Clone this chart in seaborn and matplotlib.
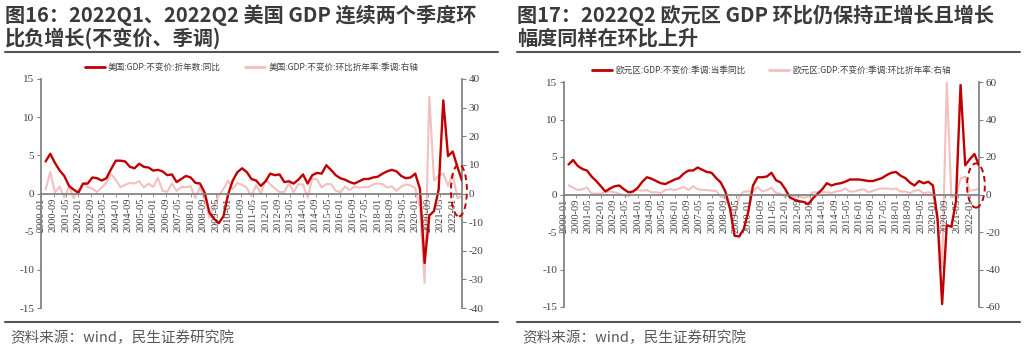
import numpy as np
import pandas as pd
import matplotlib
matplotlib.use("Agg")
import matplotlib.pyplot as plt
import matplotlib.dates as mdates
from matplotlib.patches import Ellipse
from matplotlib.lines import Line2D
from matplotlib.ticker import FixedLocator, FixedFormatter
import seaborn as sns

# ---------------- data ----------------
quarters = pd.date_range("2000-03-31", periods=90, freq="QE")
tick_dates = pd.date_range("2000-01-01", "2022-01-01", freq="8MS")
tick_labels = [d.strftime("%Y-%m") for d in tick_dates]

us_yoy = [4.2, 5.2, 4.0, 3.0, 2.3, 1.0, 0.5, 0.1, 1.3, 1.3, 2.1, 2.0,
          1.7, 2.0, 3.2, 4.3, 4.3, 4.2, 3.5, 3.3, 3.9, 3.5, 3.4, 3.0,
          3.1, 2.9, 2.4, 2.5, 1.5, 1.9, 2.3, 2.1, 1.4, 1.3, 0.1, -2.5,
          -3.3, -3.9, -3.0, -0.1, 1.7, 2.8, 3.3, 2.8, 1.9, 1.7, 1.0, 1.6,
          2.6, 2.4, 2.5, 1.5, 1.6, 1.3, 1.8, 2.5, 1.3, 2.4, 2.7, 2.6,
          3.7, 3.1, 2.4, 2.0, 1.8, 1.5, 1.3, 1.6, 1.9, 1.9, 2.1, 2.2,
          2.6, 2.9, 3.1, 2.9, 2.3, 2.0, 2.1, 2.6, 0.6, -9.1, -2.9, -2.3,
          0.5, 12.2, 4.9, 5.5, 3.5, 1.7]
us_qoq = [1.5, 7.5, 0.4, 2.4, -1.3, 2.5, -1.6, 1.1, 3.4, 2.3, 1.7, 0.5,
          2.1, 3.8, 6.8, 4.7, 2.2, 3.0, 3.7, 3.5, 4.3, 2.1, 3.4, 2.3,
          5.5, 0.9, 0.6, 3.5, 0.9, 2.3, 2.2, 2.5, -1.6, 2.3, -2.1, -8.5,
          -4.6, -0.7, 1.5, 4.5, 1.5, 3.7, 3.0, 2.0, -1.0, 2.9, -0.1, 4.7,
          3.2, 1.7, 0.5, 0.5, 3.6, 0.5, 3.2, 3.2, -1.4, 5.2, 5.0, 2.1,
          3.3, 3.3, 1.0, 0.4, 2.4, 1.2, 2.4, 2.0, 2.3, 2.2, 3.2, 3.5,
          3.3, 2.1, 2.5, 0.9, 2.4, 3.2, 2.8, 1.9, -5.1, -31.2, 33.8, 4.5,
          6.3, 7.0, 2.7, 7.0, -1.6, -0.9]

ez_yoy = [4.0, 4.6, 3.8, 3.4, 3.2, 2.4, 1.8, 1.1, 0.4, 0.8, 1.1, 1.2,
          0.7, 0.3, 0.4, 0.9, 1.7, 2.3, 2.1, 1.8, 1.5, 1.4, 1.7, 2.0,
          2.2, 2.8, 3.2, 3.2, 3.6, 3.3, 3.0, 2.9, 2.2, 1.6, 0.4, -1.9,
          -5.5, -5.6, -4.6, -2.2, 1.2, 2.3, 2.3, 2.4, 2.9, 1.9, 1.6, 0.7,
          -0.4, -0.7, -0.9, -1.0, -1.3, -0.5, 0.1, 0.7, 1.5, 1.2, 1.4, 1.5,
          1.7, 2.0, 2.0, 2.0, 1.9, 1.8, 1.8, 2.0, 2.2, 2.6, 2.9, 3.0,
          2.5, 2.2, 1.6, 1.2, 1.8, 1.5, 1.7, 1.2, -3.2, -14.6, -4.1, -4.3,
          -0.9, 14.6, 3.9, 4.7, 5.4, 3.9]
ez_qoq = [5.0, 3.6, 2.4, 2.8, 3.8, 0.4, 0.6, 0.4, 1.6, 1.6, 1.2, 0.4,
          -0.4, -1.0, 2.0, 2.4, 2.0, 2.4, 1.2, 1.2, 0.8, 2.4, 2.8, 2.4,
          3.2, 4.0, 2.4, 4.4, 2.8, 2.4, 2.4, 2.0, 2.0, -1.2, -2.0, -7.0,
          -11.6, -1.2, 1.6, 1.6, 1.6, 4.0, 1.6, 2.4, 3.6, 0.8, 0.4, -1.2,
          -0.4, -1.2, -0.8, -1.8, -1.2, 1.2, 1.2, 1.2, 1.2, 0.8, 1.6, 2.0,
          3.2, 1.6, 1.6, 2.4, 2.8, 1.2, 2.0, 2.8, 3.2, 3.2, 2.8, 3.2,
          1.6, 1.6, 0.8, 2.0, 2.4, 0.6, 1.2, 0.4, -14.0, -39.0, 60.0, -1.6,
          -0.9, 8.6, 9.5, 2.0, 2.4, 3.0]

titles_left = ["图16：2022Q1、2022Q2 美国 GDP 连续两个季度环", "比负增长(不变价、季调)"]
titles_right = ["图17：2022Q2 欧元区 GDP 环比仍保持正增长且增长", "幅度同样在环比上升"]
legend_left = ["美国:GDP:不变价:折年数:同比", "美国:GDP:不变价:环比折年率:季调:右轴"]
legend_right = ["欧元区:GDP:不变价:季调:当季同比", "欧元区:GDP:不变价:季调:环比折年率:右轴"]
source_text = "资料来源：wind，民生证券研究院"

left_ticks = [15, 10, 5, 0, -5, -10, -15]
right_ticks_us = [40, 30, 20, 10, 0, -10, -20, -30, -40]
right_ticks_ez = [60, 40, 20, 0, -20, -40, -60]

# ---------------- style ----------------
sns.set_theme(style="white")
plt.rcParams["font.family"] = ["Noto Sans CJK SC", "DejaVu Sans"]
plt.rcParams["axes.unicode_minus"] = False

RED = "#c00000"
PINK = "#f2c0c0"
GRAY = "#808080"
TXT = "#404040"
SERIF = "Liberation Serif"

W, H = 1024, 348
fig = plt.figure(figsize=(W / 100, H / 100), dpi=100)
fig.patch.set_facecolor("white")


def px(x0, y_top, w, h):
    return [x0 / W, 1 - (y_top + h) / H, w / W, h / H]


def panel(rect, yoy, qoq, rticks, leg_labels, ell_center, ell_w_days, ell_h):
    ax = fig.add_axes(rect)
    axr = ax.twinx()
    df = pd.DataFrame({"date": quarters, "yoy": yoy, "qoq": qoq})
    sns.lineplot(data=df, x="date", y="qoq", ax=axr, color=PINK, lw=1.5, legend=False)
    sns.lineplot(data=df, x="date", y="yoy", ax=ax, color=RED, lw=1.7, legend=False)
    ax.set_zorder(axr.get_zorder() + 1)
    ax.patch.set_visible(False)
    axr.patch.set_visible(False)

    ax.set_xlim(pd.Timestamp("2000-01-01"), pd.Timestamp("2022-06-30"))
    ax.set_ylim(-15, 15)
    axr.set_ylim(rticks[-1], rticks[0])
    for a in (ax, axr):
        a.set_xlabel("")
        a.set_ylabel("")
        a.grid(False)

    ax.yaxis.set_major_locator(FixedLocator(left_ticks))
    ax.yaxis.set_major_formatter(FixedFormatter([str(t) for t in left_ticks]))
    axr.yaxis.set_major_locator(FixedLocator(rticks))
    axr.yaxis.set_major_formatter(FixedFormatter([str(t) for t in rticks]))
    ax.xaxis.set_major_locator(FixedLocator(mdates.date2num(tick_dates)))
    ax.xaxis.set_major_formatter(FixedFormatter(tick_labels))
    ax.xaxis.set_minor_locator(FixedLocator([]))

    for s in ("top", "right"):
        ax.spines[s].set_visible(False)
    ax.spines["left"].set_color(GRAY)
    ax.spines["bottom"].set_color(GRAY)
    ax.spines["bottom"].set_position(("data", 0))
    for s in ("top", "left", "bottom"):
        axr.spines[s].set_visible(False)
    axr.spines["right"].set_color(GRAY)

    ax.tick_params(axis="y", direction="out", length=3, width=0.8, color=GRAY, pad=2,
                   left=True, labelsize=8, labelcolor=TXT, labelfontfamily=SERIF)
    ax.tick_params(axis="x", direction="out", length=2, width=0.6, color=GRAY, pad=1,
                   bottom=True, labelsize=7.5, labelcolor=TXT, labelfontfamily=SERIF,
                   labelrotation=90)
    axr.tick_params(axis="y", direction="out", length=3, width=0.8, color=GRAY, pad=2,
                    right=True, labelsize=8, labelcolor=TXT, labelfontfamily=SERIF)

    handles = [Line2D([], [], color=RED, lw=2), Line2D([], [], color=PINK, lw=2)]
    ax.legend(handles, leg_labels, loc="center", bbox_to_anchor=(0.5, 1.05), ncol=2,
              frameon=False, prop={"family": ["Noto Sans CJK SC"], "size": 6.2},
              handlelength=2.3, handletextpad=0.4, columnspacing=2.8,
              labelcolor=TXT)

    e = Ellipse((mdates.date2num(ell_center), ell_h[0]), width=ell_w_days, height=ell_h[1],
                fill=False, edgecolor=RED, lw=1.4, ls=(0, (3, 2)), clip_on=False, zorder=10)
    ax.add_patch(e)
    return ax, axr


panel(px(41, 79, 421, 229), us_yoy, us_qoq, right_ticks_us, legend_left,
      pd.Timestamp("2022-05-01"), 310, (0.4, 6.8))
panel(px(564, 82, 415, 225), ez_yoy, ez_qoq, right_ticks_ez, legend_right,
      pd.Timestamp("2022-05-01"), 350, (1.2, 5.9))

# titles, rules, footers
for x0, x1, tl in ((5, 498, titles_left), (517, 1020, titles_right)):
    fig.text(x0 / W, 1 - 15 / H, tl[0], fontsize=14.5, fontweight="bold", color="#3a3a3a",
             ha="left", va="center")
    fig.text(x0 / W, 1 - 38 / H, tl[1], fontsize=14.5, fontweight="bold", color="#3a3a3a",
             ha="left", va="center")
    fig.add_artist(Line2D([x0 / W, x1 / W], [1 - 52 / H] * 2, color="#555555", lw=1.5))
    fig.add_artist(Line2D([x0 / W, x1 / W], [1 - 322 / H] * 2, color="#555555", lw=1.5))
    fig.text((x0 + 5) / W, 1 - 338 / H, source_text, fontsize=10.5, color="#595959",
             ha="left", va="center")

fig.savefig("out.png", dpi=100, facecolor="white")
